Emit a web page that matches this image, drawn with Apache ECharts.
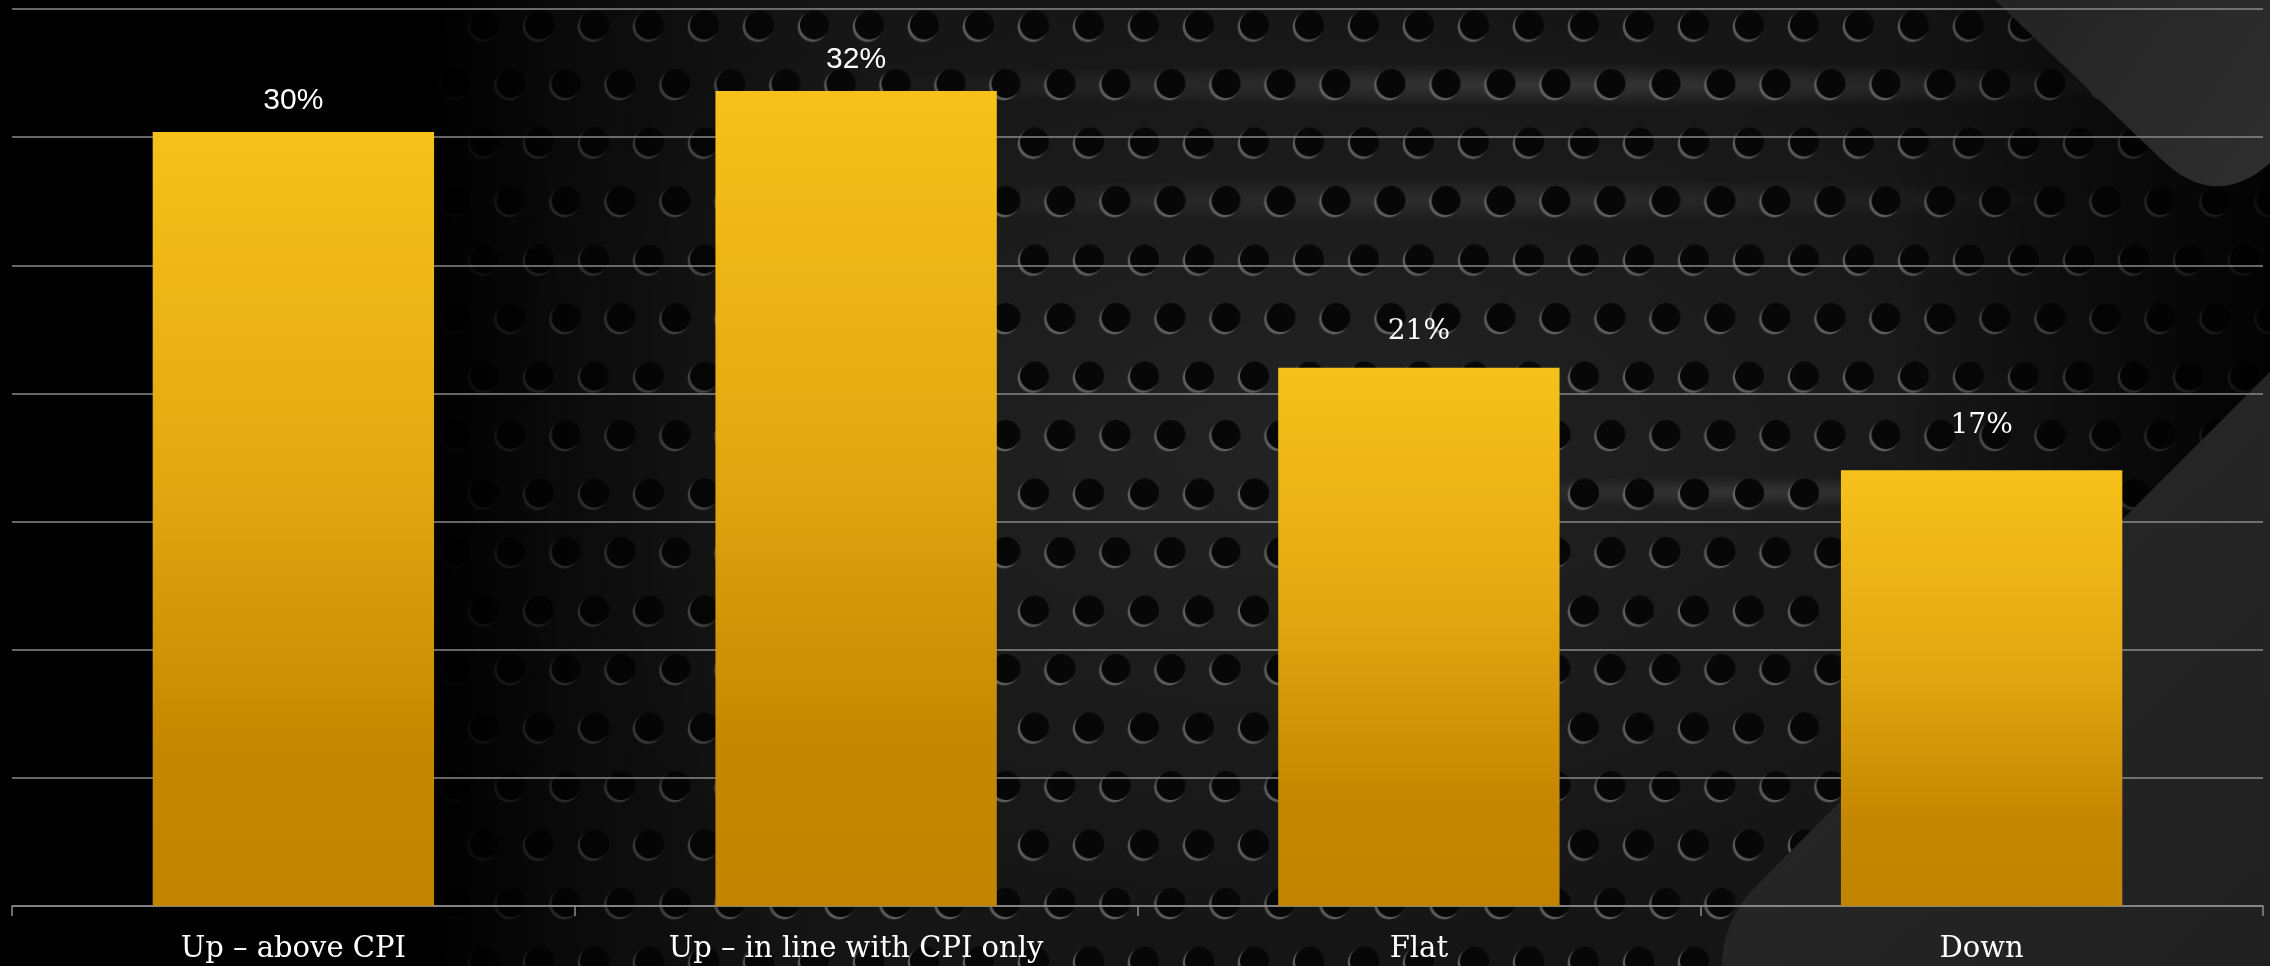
<!DOCTYPE html>
<html>
<head>
<meta charset="utf-8">
<script src="https://cdn.jsdelivr.net/npm/echarts@6/dist/echarts.min.js"></script>
<style>
  html, body { margin: 0; padding: 0; background: #000; }
  #wrap { position: relative; width: 2270px; height: 966px; overflow: hidden; }
  #bg {
    position: absolute; left: 0; top: 0; width: 2270px; height: 966px;
    background:
      linear-gradient(to right, #000 0px, #000 430px, rgba(0,0,0,0.55) 560px, rgba(0,0,0,0) 820px),
      linear-gradient(to left, rgba(0,0,0,0.85) 0px, rgba(0,0,0,0.5) 160px, rgba(0,0,0,0) 380px),
      radial-gradient(circle at 27.5px 58.5px, #070707 0px, #070707 14px, rgba(7,7,7,0) 15px),
      radial-gradient(circle at 27.5px 58.5px, #070707 0px, #070707 14px, rgba(7,7,7,0) 15px),
      radial-gradient(circle at 27.5px 58.5px, rgba(120,120,120,0.7) 0px, rgba(120,120,120,0.7) 14px, rgba(120,120,120,0) 15.5px),
      radial-gradient(circle at 27.5px 58.5px, rgba(120,120,120,0.7) 0px, rgba(120,120,120,0.7) 14px, rgba(120,120,120,0) 15.5px),
      radial-gradient(ellipse 700px 22px at 1550px 85px, rgba(90,90,90,0.45), rgba(90,90,90,0)),
      radial-gradient(ellipse 650px 22px at 1450px 200px, rgba(80,80,80,0.35), rgba(80,80,80,0)),
      radial-gradient(ellipse 350px 16px at 1750px 492px, rgba(90,90,90,0.4), rgba(90,90,90,0)),
      radial-gradient(ellipse 900px 500px at 1300px 450px, #232323, #151515),
      #151515;
    background-size: 100% 100%, 100% 100%, 55px 117px, 55px 117px, 55px 117px, 55px 117px,
      100% 100%, 100% 100%, 100% 100%, 100% 100%;
    background-repeat: no-repeat, no-repeat, repeat, repeat, repeat, repeat,
      no-repeat, no-repeat, no-repeat, no-repeat;
    background-position: 0 0, 0 0, 17px -33.5px, -11.5px 25px, 15px -31.5px, -13.5px 27px,
      0 0, 0 0, 0 0, 0 0;
  }
  #chart { position: absolute; left: 0; top: 0; width: 2270px; height: 966px; }
</style>
</head>
<body>
<div id="wrap">
  <div id="bg"></div>
  <div id="chart"></div>
</div>
<script>
// ---- data ----
var categories = ['Up – above CPI', 'Up – in line with CPI only', 'Flat', 'Down'];
var shares = [30.2, 31.8, 21.0, 17.0];
var axisMin = 0;
var axisMax = 35;
var axisStep = 5;

// ---- helpers ----
function linGrad(x, y, x2, y2, stops) {
  return { type: 'linear', x: x, y: y, x2: x2, y2: y2, global: false,
    colorStops: stops.map(function (s) { return { offset: s[0], color: s[1] }; }) };
}
// decorative outline: straight segments with a quadratic-rounded corner
function roundedOutline(start, cornerIn, ctrl, cornerOut, rest) {
  var pts = [start, cornerIn];
  for (var i = 1; i < 16; i++) {
    var t = i / 16, u = 1 - t;
    pts.push([u * u * cornerIn[0] + 2 * u * t * ctrl[0] + t * t * cornerOut[0],
              u * u * cornerIn[1] + 2 * u * t * ctrl[1] + t * t * cornerOut[1]]);
  }
  pts.push(cornerOut);
  return pts.concat(rest);
}

// ---- chart ----
var chart = echarts.init(document.getElementById('chart'), null, { renderer: 'canvas' });

// value-label styles (first two labels are sans, last two serif as in the source)
var labelStyles = [
  { fontFamily: '"Liberation Sans", Arial, sans-serif', fontSize: 30, distance: 16 },
  { fontFamily: '"Liberation Sans", Arial, sans-serif', fontSize: 30, distance: 16 },
  { fontFamily: '"DejaVu Serif", serif', fontSize: 28, distance: 22 },
  { fontFamily: '"DejaVu Serif", serif', fontSize: 28, distance: 31 }
];

var seriesData = shares.map(function (v, i) {
  return { value: v, label: labelStyles[i] };
});

var option = {
  backgroundColor: 'transparent',
  animation: false,
  graphic: [
    {
      type: 'polygon',
      z: -10,
      silent: true,
      shape: { points: roundedOutline([1995, 0], [2160, 158], [2215, 212], [2270, 163], [[2270, 0]]) },
      style: { fill: linGrad(0, 0, 1, 1, [[0, '#232323'], [1, '#2e2e2e']]) }
    },
    {
      type: 'polygon',
      z: -10,
      silent: true,
      shape: { points: roundedOutline([2270, 372], [1758, 884], [1722, 920], [1722, 966], [[2270, 966]]) },
      style: { fill: linGrad(0, 0, 1, 1, [[0, '#2b2b2b'], [1, '#202020']]) }
    }
  ],
  grid: { left: 12, right: 7, top: 9, bottom: 60, containLabel: false },
  xAxis: {
    type: 'category',
    data: categories,
    boundaryGap: true,
    axisLine: { show: true, lineStyle: { color: '#8c8c8c', width: 1.5 } },
    axisTick: { show: true, length: 10, alignWithLabel: false, lineStyle: { color: '#8c8c8c', width: 1.5 } },
    axisLabel: {
      color: '#ffffff',
      fontFamily: '"DejaVu Serif", serif',
      fontSize: 29,
      margin: 29,
      interval: 0
    },
    splitLine: { show: false }
  },
  yAxis: {
    type: 'value',
    min: axisMin,
    max: axisMax,
    interval: axisStep,
    axisLine: { show: false },
    axisTick: { show: false },
    axisLabel: { show: false },
    splitLine: { show: true, lineStyle: { color: '#8a8a8a', width: 1.5 } }
  },
  series: [{
    type: 'bar',
    data: seriesData,
    barWidth: '50%',
    itemStyle: {
      color: linGrad(0, 0, 0, 1, [[0, '#F6C11A'], [0.45, '#E2A812'], [0.8, '#C48700'], [1, '#C18400']])
    },
    label: {
      show: true,
      position: 'top',
      distance: 16,
      color: '#ffffff',
      formatter: function (p) { return Math.round(p.value) + '%'; }
    }
  }]
};
chart.setOption(option);
</script>
</body>
</html>
